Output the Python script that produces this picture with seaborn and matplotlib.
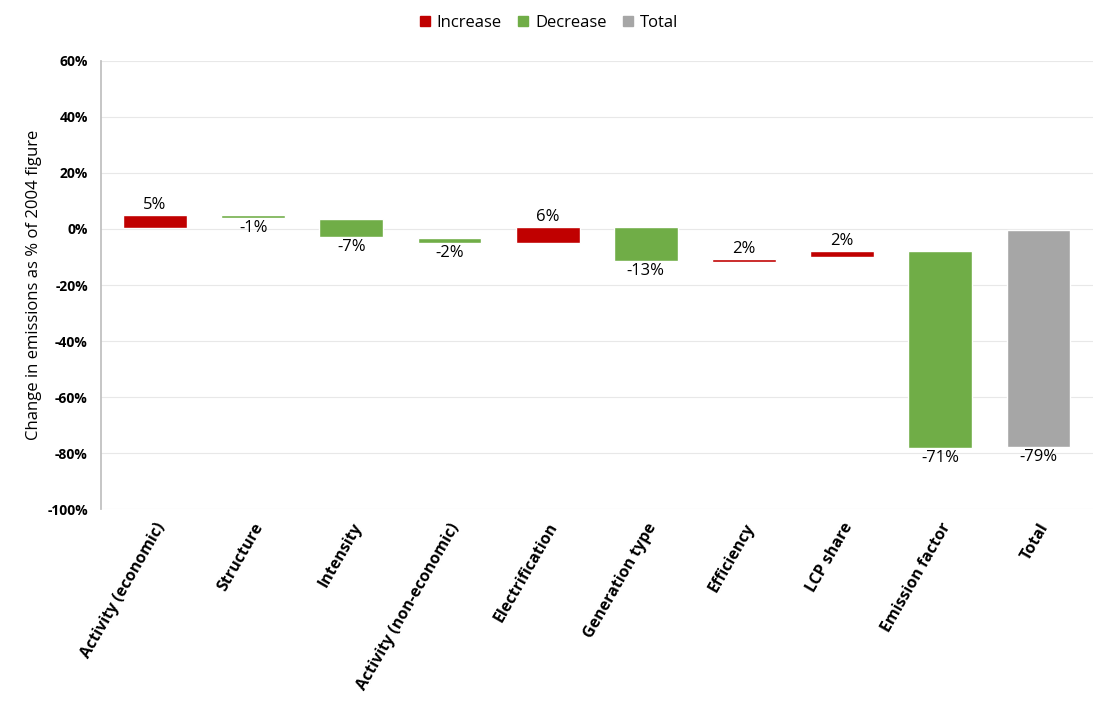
import matplotlib
matplotlib.use("Agg")
import matplotlib.pyplot as plt
import seaborn as sns
import pandas as pd
from matplotlib.patches import Patch

# -------------------------
# Data
# -------------------------
categories = ["Activity (economic)", "Structure", "Intensity", "Activity (non-economic)",
              "Electrification", "Generation type", "Efficiency", "LCP share",
              "Emission factor", "Total"]
bar_bottom = [0.3, 4.0, -2.9, -5.0, -5.0, -11.4, -11.8, -10.0, -78.2, -77.9]
bar_top = [4.9, 4.9, 3.6, -3.2, 0.7, 0.7, -10.7, -7.9, -7.9, -0.4]
labels = ["5%", "-1%", "-7%", "-2%", "6%", "-13%", "2%", "2%", "-71%", "-79%"]
kinds = ["Increase", "Decrease", "Decrease", "Decrease", "Increase",
         "Decrease", "Increase", "Increase", "Decrease", "Total"]

colors = {"Increase": "#c00000", "Decrease": "#70ad47", "Total": "#a6a6a6"}

df = pd.DataFrame({"category": categories, "bottom": bar_bottom, "top": bar_top,
                   "label": labels, "kind": kinds})
df["height"] = df["top"] - df["bottom"]
df["pos"] = range(len(df))

sns.set_theme(style="white")
plt.rcParams["font.family"] = ["Open Sans", "DejaVu Sans"]
plt.rcParams["text.color"] = "black"
plt.rcParams["xtick.color"] = "black"
plt.rcParams["ytick.color"] = "black"
plt.rcParams["axes.labelcolor"] = "black"

fig, ax = plt.subplots(figsize=(10.98, 7.17), dpi=100)
fig.subplots_adjust(left=0.092, right=0.995, top=0.915, bottom=0.29)

ax.bar(df["pos"], df["height"], bottom=df["bottom"], width=0.65,
       color=[colors[k] for k in df["kind"]])
ax.set_xticks(df["pos"])
ax.set_xticklabels(categories)

for i, row in df.iterrows():
    if row["kind"] == "Increase":
        ax.text(i, row["top"] + 0.8, row["label"], ha="center", va="bottom", fontsize=12)
    else:
        ax.text(i, row["bottom"] - 0.8, row["label"], ha="center", va="top", fontsize=12)

ax.set_ylim(-100, 60)
ax.set_xlim(-0.55, len(categories) - 0.45)
ax.set_yticks(range(-100, 61, 20))
ax.set_yticklabels([f"{v}%" for v in range(-100, 61, 20)], fontweight="bold", fontsize=10)
ax.yaxis.grid(True, color="#e8e8e8", linewidth=0.8)
ax.set_axisbelow(True)
for s in ["top", "right", "bottom"]:
    ax.spines[s].set_visible(False)
ax.spines["left"].set_color("#bfbfbf")

plt.setp(ax.get_xticklabels(), rotation=60, ha="right", rotation_mode="anchor",
         fontweight="bold", fontsize=11.5)
ax.tick_params(axis="x", pad=2)
ax.set_ylabel("Change in emissions as % of 2004 figure", fontsize=12, labelpad=4)

handles = [Patch(color=c, label=k) for k, c in colors.items()]
fig.legend(handles=handles, loc="upper center", ncol=3, frameon=False, fontsize=12,
           handlelength=0.6, handleheight=0.6, columnspacing=1.0, handletextpad=0.4,
           bbox_to_anchor=(0.5, 1.0))

plt.savefig("out.png")
